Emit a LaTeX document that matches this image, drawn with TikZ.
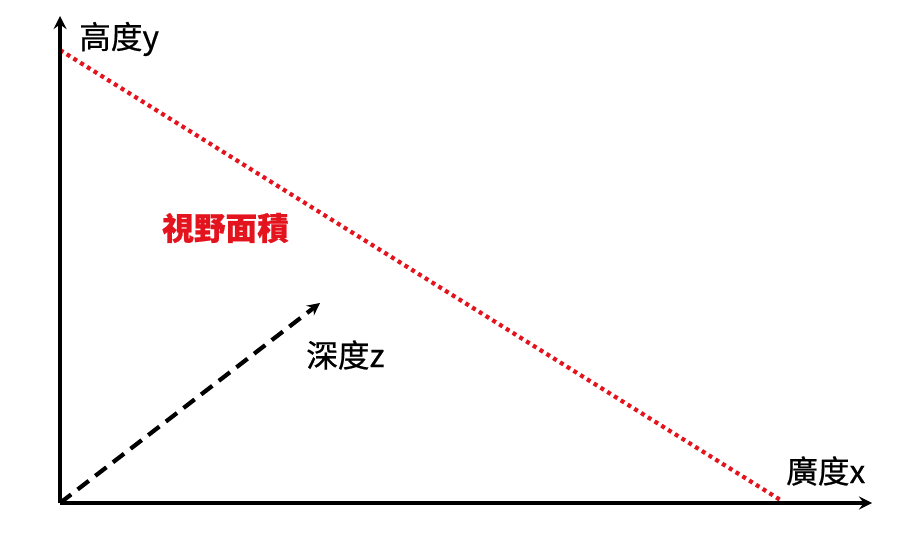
\documentclass[tikz,border=0pt]{standalone}
\usepackage{fontspec}
\usepackage{tikz}
\usetikzlibrary{arrows, calc}
\newfontfamily\cjk[FakeBold=0.6]{Noto Sans CJK TC}
\definecolor{viewred}{RGB}{228,20,30}
\tikzstyle{axis} = [line width=3.8pt,->,>=stealth]
\tikzstyle{depth} = [line width=3.6pt,->,>=stealth,dash pattern=on 12pt off 7pt]
\tikzstyle{edge} = [line width=3.6pt,viewred,dash pattern=on 3.4pt off 3.4pt]
\tikzstyle{lbl} = [inner sep=0pt, font=\cjk\fontsize{27}{27}\selectfont, anchor=west]

\begin{document}
\begin{tikzpicture}[x=0.03cm, y=-0.03cm]
  \useasboundingbox (0,0) rectangle (903,535);
  \coordinate (o) at (60,503);
  \coordinate (ytop) at (60,16);
  \coordinate (xend) at (872,503);
  \coordinate (zend) at (320,303);
  \coordinate (h) at (60,50);
  \coordinate (w) at (782,501);

  \node (high) [lbl] at (79,39) {高度y};
  \node (deep) [lbl] at (306,355) {深度z};
  \node (wide) [lbl] at (786,471) {廣度x};
  \node (area) [lbl, viewred, font=\cjk\bfseries\fontsize{27}{27}\selectfont] at (162,228) {視野面積};

  \draw [edge] (h) -- (w);
  \draw [depth] (o) -- (zend);
  \draw [axis] (o) -- (ytop);
  \draw [axis] (o) -- (xend);
\end{tikzpicture}
\end{document}
